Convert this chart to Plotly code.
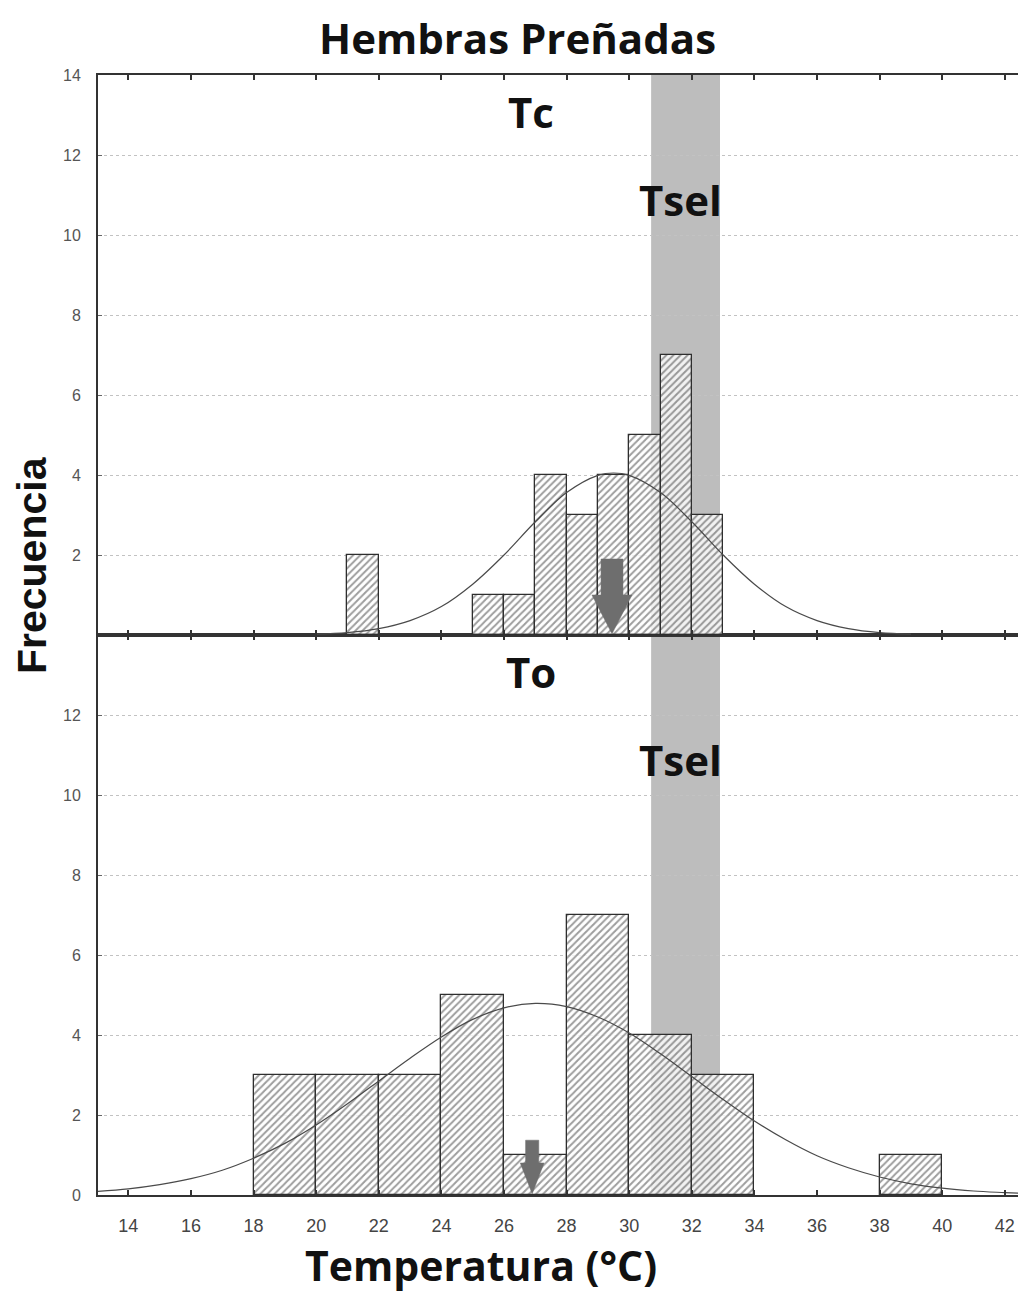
import plotly.graph_objects as go

# ---------------- data ----------------
# Top panel (Tc): histogram, bin width 1 °C
tc_bin_centers = [21.5, 25.5, 26.5, 27.5, 28.5, 29.5, 30.5, 31.5, 32.5]
tc_counts = [2, 1, 1, 4, 3, 4, 5, 7, 3]
tc_bin_width = 1.0

# Bottom panel (To): histogram, bin width 2 °C
to_bin_centers = [19, 21, 23, 25, 27, 29, 31, 33, 39]
to_counts = [3, 3, 3, 5, 1, 7, 4, 3, 1]
to_bin_width = 2.0

# fitted curves
tc_curve_x = [20, 21, 22, 23, 24, 25, 26, 27, 28, 29, 29.5, 30, 31, 32, 33, 34, 35, 36, 37, 38, 39]
tc_curve_y = [0.02, 0.06, 0.16, 0.36, 0.71, 1.27, 2.0, 2.83, 3.56, 3.99, 4.05, 3.99, 3.56, 2.83,
              2.0, 1.27, 0.71, 0.36, 0.16, 0.06, 0.02]

to_curve_x = [13, 14, 15, 16, 17, 18, 19, 20, 21, 22, 23, 24, 25, 26, 27, 28, 29, 30, 31, 32,
              33, 34, 35, 36, 37, 38, 39, 40, 41, 42, 42.85]
to_curve_y = [0.09, 0.155, 0.26, 0.41, 0.62, 0.92, 1.29, 1.75, 2.28, 2.85, 3.42, 3.95, 4.39, 4.68,
              4.79, 4.71, 4.45, 4.05, 3.53, 2.96, 2.39, 1.85, 1.38, 0.98, 0.68, 0.45, 0.28, 0.17,
              0.10, 0.06, 0.03]

# mean arrows (x position, top of shaft, start of head)
arrow_x = [29.45, 26.9]
arrow_top = [1.9, 1.37]
arrow_head = [1.0, 0.8]

# Tsel band (°C)
tsel_range = [30.7, 32.9]

x_ticks = [14, 16, 18, 20, 22, 24, 26, 28, 30, 32, 34, 36, 38, 40, 42]
y_ticks_bottom = [0, 2, 4, 6, 8, 10, 12]
y_ticks_top = [2, 4, 6, 8, 10, 12, 14]

panel_labels = ["Tc", "To"]

# ---------------- figure ----------------
fig = go.Figure()

bar_marker = dict(
    color="rgba(255,255,255,0.8)",
    line=dict(color="#2e2e2e", width=1.3),
    pattern=dict(shape="/", fgcolor="#3c3c3c", bgcolor="rgba(255,255,255,0.8)",
                 size=5, solidity=0.4, fillmode="overlay"),
)

fig.add_trace(go.Bar(x=tc_bin_centers, y=tc_counts, width=tc_bin_width,
                     marker=bar_marker, xaxis="x2", yaxis="y2", showlegend=False))
fig.add_trace(go.Bar(x=to_bin_centers, y=to_counts, width=to_bin_width,
                     marker=bar_marker, xaxis="x", yaxis="y", showlegend=False))

fig.add_trace(go.Scatter(x=tc_curve_x, y=tc_curve_y, mode="lines",
                         line=dict(color="#4a4a4a", width=1.2, shape="spline"),
                         xaxis="x2", yaxis="y2", showlegend=False))
fig.add_trace(go.Scatter(x=to_curve_x, y=to_curve_y, mode="lines",
                         line=dict(color="#4a4a4a", width=1.2, shape="spline"),
                         xaxis="x", yaxis="y", showlegend=False))

shapes = []
for xr, yr in [("x2", "y2 domain"), ("x", "y domain")]:
    shapes.append(dict(type="rect", xref=xr, yref=yr, x0=tsel_range[0], x1=tsel_range[1],
                       y0=0, y1=1, fillcolor="#bdbdbd", line=dict(width=0), layer="below"))

shaft_hw = [0.35, 0.21]
head_hw = [0.64, 0.38]
for i, (xr, yr) in enumerate([("x2", "y2"), ("x", "y")]):
    cx, top, hy = arrow_x[i], arrow_top[i], arrow_head[i]
    sw, hw = shaft_hw[i], head_hw[i]
    path = (f"M {cx - sw},{top} L {cx + sw},{top} L {cx + sw},{hy} L {cx + hw},{hy} "
            f"L {cx},0.03 L {cx - hw},{hy} L {cx - sw},{hy} Z")
    shapes.append(dict(type="path", xref=xr, yref=yr, path=path,
                       fillcolor="#6e6e6e", line=dict(color="#6e6e6e", width=0.5), layer="above"))

axis_line = "#333333"
common_x = dict(range=[13.03, 42.42], tickvals=x_ticks, showgrid=False, zeroline=False,
                showline=True, linecolor=axis_line, mirror="ticks", ticks="inside",
                ticklen=5, tickwidth=2, tickcolor="#333333")
common_y = dict(range=[0, 14], showgrid=True, gridcolor="#c2c2c2", griddash="dot", gridwidth=1,
                zeroline=False, showline=True, linecolor=axis_line, linewidth=2,
                ticks="inside", ticklen=4, tickcolor="#666666",
                tickfont=dict(family="Liberation Sans, Arial", size=16, color="#555555"),
                ticklabelstandoff=12)

# the page body adds an 8px offset; margins compensate so the plot area sits where it should
fig.update_layout(
    width=1010, height=1286,
    margin=dict(l=90, r=0, t=67, b=99),
    paper_bgcolor="white", plot_bgcolor="white",
    bargap=0,
    shapes=shapes,
    xaxis=dict(**common_x, anchor="y", domain=[0, 1], linewidth=2,
               tickfont=dict(family="Liberation Sans Narrow, Liberation Sans, Arial", size=18,
                             color="#444444"),
               ticklabelstandoff=13),
    xaxis2=dict(**common_x, anchor="y2", matches="x", showticklabels=False, linewidth=1.5),
    yaxis=dict(**common_y, domain=[0, 0.5], tickvals=y_ticks_bottom),
    yaxis2=dict(**common_y, domain=[0.5, 1], tickvals=y_ticks_top),
)

label_font = dict(family="Open Sans, Lato", size=42, color="#111111")
annotations = [
    dict(text="<b>Hembras Preñadas</b>", xref="paper", yref="paper", x=0.4565, y=1.0339,
         xanchor="center", yanchor="middle", showarrow=False,
         font=dict(family="Open Sans, Lato", size=42, color="#111111")),
    dict(text="<b>Temperatura (°C)</b>", xref="paper", yref="paper", x=0.416, y=-0.0625,
         xanchor="center", yanchor="middle", showarrow=False,
         font=dict(family="Open Sans, Lato", size=41, color="#111111")),
    dict(text="<b>Frecuencia</b>", xref="paper", yref="paper", x=-0.0717, y=0.5625,
         xanchor="center", yanchor="middle", showarrow=False, textangle=-90,
         font=dict(family="Liberation Sans, Arial", size=41, color="#111111")),
    dict(text=f"<b>{panel_labels[0]}</b>", xref="x2", yref="y2", x=26.85, y=13.1,
         showarrow=False, font=label_font),
    dict(text="<b>Tsel</b>", xref="x2", yref="y2", x=31.65, y=10.9,
         showarrow=False, font=label_font),
    dict(text=f"<b>{panel_labels[1]}</b>", xref="x", yref="y", x=26.85, y=13.1,
         showarrow=False, font=label_font),
    dict(text="<b>Tsel</b>", xref="x", yref="y", x=31.65, y=10.9,
         showarrow=False, font=label_font),
]
fig.update_layout(annotations=annotations)

fig.write_html("out.html")
